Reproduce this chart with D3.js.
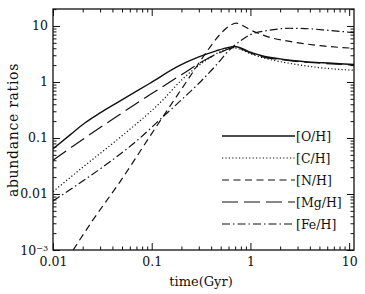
<!DOCTYPE html>
<html>
<head>
<meta charset="utf-8">
<script src="https://cdn.jsdelivr.net/npm/d3@7"></script>
<style>
  body { margin: 0; background: #fff; }
  svg { display: block; }
  text { font-family: "DejaVu Serif", serif; fill: #111; }
</style>
</head>
<body>
<svg id="chart" width="365" height="294"></svg>
<script>
// abundance ratio tracks: [time (Gyr), ratio]
var oxygen = [[0.01,0.064],[0.015,0.115],[0.021,0.185],[0.03,0.28],[0.047,0.45],[0.096,0.95],[0.19,1.95],[0.3,2.8],[0.45,3.6],[0.6,4.15],[0.68,4.3],[0.8,4.05],[1.0,3.4],[1.25,3.0],[2.5,2.45],[5.4,2.2],[11.2,2.05]];
var carbon = [[0.01,0.011],[0.02,0.03],[0.047,0.1],[0.127,0.46],[0.208,1.15],[0.35,2.4],[0.5,3.5],[0.65,4.15],[0.8,3.8],[1.0,3.2],[1.25,2.8],[2.5,2.15],[5.4,1.78],[11.2,1.62]];
var nitrogen = [[0.016,0.001],[0.025,0.0033],[0.0477,0.0165],[0.1,0.12],[0.24,1.2],[0.37,3.7],[0.5,7.3],[0.62,10.2],[0.72,11.2],[0.85,10],[1.0,8.5],[1.25,7.2],[1.6,6.2],[2.5,5.3],[5.4,4.4],[11.2,4.0]];
var magnesium = [[0.01,0.04],[0.021,0.1],[0.047,0.26],[0.1,0.62],[0.2,1.35],[0.35,2.5],[0.5,3.4],[0.68,4.1],[0.8,3.9],[1.0,3.3],[1.25,2.9],[2.5,2.4],[5.4,2.15],[11.2,2.0]];
var iron = [[0.01,0.0075],[0.02,0.017],[0.044,0.046],[0.07,0.088],[0.127,0.23],[0.2,0.48],[0.31,1.0],[0.45,2.0],[0.62,3.8],[0.8,5.5],[1.0,7.0],[1.5,8.3],[2.5,9.1],[4,8.9],[6,8.4],[11.2,7.6]];

var seriesNames = ["[O/H]", "[C/H]", "[N/H]", "[Mg/H]", "[Fe/H]"];
var seriesData = [oxygen, carbon, nitrogen, magnesium, iron];
var dashes = ["none", "1.2,2.2", "7,4.5", "16,6", "8,3,1.5,3"];

var xMajor = [0.01, 0.1, 1, 10];
var xLabels = ["0.01", "0.1", "1", "10"];
var yMajor = [0.001, 0.01, 0.1, 1, 10];
var yLabels = ["10", "0.01", "0.1", "1", "10"];

var svg = d3.select("#chart"),
    pLeft = 53, pRight = 354, pTop = 9, pBottom = 250;

var x = d3.scaleLog().domain([0.01, 11.2]).range([pLeft, pRight]);
var y = d3.scaleLog().domain([0.001, 20.1]).range([pBottom, pTop]);

function minors(lo, hi) {
    var out = [];
    for (var e = lo; e < hi; e++)
        for (var m = 2; m <= 9; m++) out.push(m * Math.pow(10, e));
    return out;
}
var xMinor = minors(-2, 2).filter(function (d) { return d <= 11.2; });
var yMinor = minors(-3, 2).filter(function (d) { return d <= 20.1; });

function styleAxis(g) {
    g.select(".domain").remove();
    g.selectAll("line").attr("stroke", "#111").attr("stroke-width", 1);
}

// bottom / top
svg.append("g").attr("transform", "translate(0," + pBottom + ")")
    .call(d3.axisBottom(x).tickValues(xMinor).tickSize(-3.5).tickFormat(""))
    .call(styleAxis);
svg.append("g").attr("transform", "translate(0," + pBottom + ")")
    .call(d3.axisBottom(x).tickValues(xMajor).tickSize(-7).tickPadding(7)
        .tickFormat(function (d, i) { return xLabels[i]; }))
    .call(styleAxis)
    .selectAll("text").attr("font-size", 12.5);
svg.append("g").attr("transform", "translate(0," + pTop + ")")
    .call(d3.axisTop(x).tickValues(xMinor).tickSize(-3.5).tickFormat(""))
    .call(styleAxis);
svg.append("g").attr("transform", "translate(0," + pTop + ")")
    .call(d3.axisTop(x).tickValues(xMajor).tickSize(-7).tickFormat(""))
    .call(styleAxis);

// left / right
svg.append("g").attr("transform", "translate(" + pLeft + ",0)")
    .call(d3.axisLeft(y).tickValues(yMinor).tickSize(-3.5).tickFormat(""))
    .call(styleAxis);
var yAxisG = svg.append("g").attr("transform", "translate(" + pLeft + ",0)")
    .call(d3.axisLeft(y).tickValues(yMajor).tickSize(-7).tickPadding(5)
        .tickFormat(function (d, i) { return yLabels[i]; }))
    .call(styleAxis);
yAxisG.selectAll("text").attr("font-size", 12.5);
yAxisG.selectAll(".tick").filter(function (d) { return d === 0.001; })
    .select("text")
    .append("tspan").attr("dy", "-0.45em").attr("font-size", 8).text("\u22123");
svg.append("g").attr("transform", "translate(" + pRight + ",0)")
    .call(d3.axisRight(y).tickValues(yMinor).tickSize(-3.5).tickFormat(""))
    .call(styleAxis);
svg.append("g").attr("transform", "translate(" + pRight + ",0)")
    .call(d3.axisRight(y).tickValues(yMajor).tickSize(-7).tickFormat(""))
    .call(styleAxis);

svg.append("rect")
    .attr("x", pLeft).attr("y", pTop)
    .attr("width", pRight - pLeft).attr("height", pBottom - pTop)
    .attr("fill", "none").attr("stroke", "#111").attr("stroke-width", 1.3);

svg.append("clipPath").attr("id", "plot")
    .append("rect").attr("x", pLeft).attr("y", pTop)
    .attr("width", pRight - pLeft).attr("height", pBottom - pTop);

var line = d3.line()
    .x(function (d) { return x(d[0]); })
    .y(function (d) { return y(d[1]); })
    .curve(d3.curveMonotoneX);

seriesData.forEach(function (data, i) {
    svg.append("path")
        .datum(data)
        .attr("clip-path", "url(#plot)")
        .attr("d", line)
        .attr("fill", "none")
        .attr("stroke", "#111")
        .attr("stroke-width", i === 0 ? 1.4 : 1.2)
        .attr("stroke-dasharray", dashes[i]);
});

// legend
var legend = svg.append("g");
seriesNames.forEach(function (name, i) {
    var ly = 136 + i * 22;
    legend.append("line")
        .attr("x1", 222).attr("x2", 295)
        .attr("y1", ly).attr("y2", ly)
        .attr("stroke", "#111")
        .attr("stroke-width", i === 0 ? 1.4 : 1.2)
        .attr("stroke-dasharray", dashes[i]);
    legend.append("text")
        .attr("x", 296).attr("y", ly + 4.5)
        .attr("font-size", 12.5)
        .text(name);
});

svg.append("text")
    .attr("x", 201).attr("y", 286)
    .attr("text-anchor", "middle")
    .attr("font-size", 13)
    .text("time(Gyr)");

svg.append("text")
    .attr("transform", "translate(18,130) rotate(-90)")
    .attr("text-anchor", "middle")
    .attr("font-size", 14)
    .attr("letter-spacing", 0.7)
    .text("abundance ratios");
</script>
</body>
</html>
